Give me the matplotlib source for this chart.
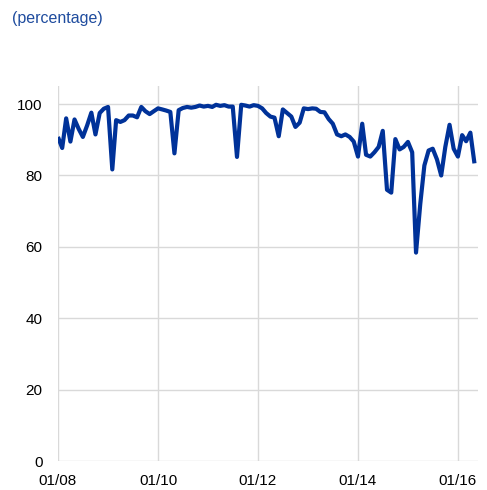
import matplotlib
matplotlib.use("Agg")
import matplotlib.pyplot as plt
import pandas as pd

plt.rcParams["font.family"] = ["Liberation Sans", "DejaVu Sans"]

# Monthly observations, January 2008 to May 2016 (percentage)
months = pd.date_range("2008-01-01", periods=101, freq="MS")
values = [
    90.8, 87.7, 96.0, 89.5, 95.7, 93.0, 90.8, 94.0, 97.6, 91.5, 97.5, 98.7,
    99.2, 81.7, 95.5, 95.0, 95.5, 96.8, 96.8, 96.3, 99.2, 98.0, 97.2, 98.0,
    98.8, 98.5, 98.2, 97.8, 86.2, 98.3, 98.9, 99.2, 99.0, 99.2, 99.6, 99.3,
    99.5, 99.2, 99.8, 99.5, 99.7, 99.3, 99.3, 85.2, 99.8, 99.6, 99.3, 99.7,
    99.5, 98.8, 97.5, 96.5, 96.2, 91.0, 98.5, 97.5, 96.5, 93.6, 94.8, 98.8,
    98.6, 98.8, 98.7, 97.8, 97.7, 95.8, 94.5, 91.5, 91.0, 91.5, 90.8, 89.5,
    85.3, 94.5, 85.8, 85.3, 86.5, 88.0, 92.5, 76.0, 75.2, 90.2, 87.3, 88.0,
    89.4, 86.5, 58.4, 72.0, 82.8, 87.0, 87.5, 84.5, 80.0, 88.0, 94.2, 87.5,
    85.3, 91.3, 89.6, 92.0, 83.4,
]
tick_dates = pd.to_datetime(["2008-01-01", "2010-01-01", "2012-01-01",
                             "2014-01-01", "2016-01-01"])
tick_labels = ["01/08", "01/10", "01/12", "01/14", "01/16"]
y_ticks = [0, 20, 40, 60, 80, 100]

fig = plt.figure(figsize=(4.87, 4.90), dpi=100)
ax = fig.add_axes([0.119, 0.059, 0.862, 0.765])

ax.plot(months, values, color="#003299", linewidth=3.0,
        solid_joinstyle="round", solid_capstyle="butt", zorder=3)

ax.set_ylim(0, 105)
ax.set_xlim(pd.Timestamp("2008-01-01"), pd.Timestamp("2016-05-25"))
ax.set_yticks(y_ticks)
ax.set_xticks(tick_dates)
ax.set_xticklabels(tick_labels)

ax.grid(True, color="#d9d9d9", linewidth=1.0, zorder=0)
for s in ax.spines.values():
    s.set_visible(False)
ax.tick_params(axis="both", length=0, labelsize=11, colors="#000000")
ax.tick_params(axis="y", pad=11)
ax.tick_params(axis="x", pad=9)

fig.text(0.024, 0.963, "(percentage)", color="#1f4c9e", fontsize=11.5,
         ha="left", va="center")

fig.savefig("out.png", dpi=100)
